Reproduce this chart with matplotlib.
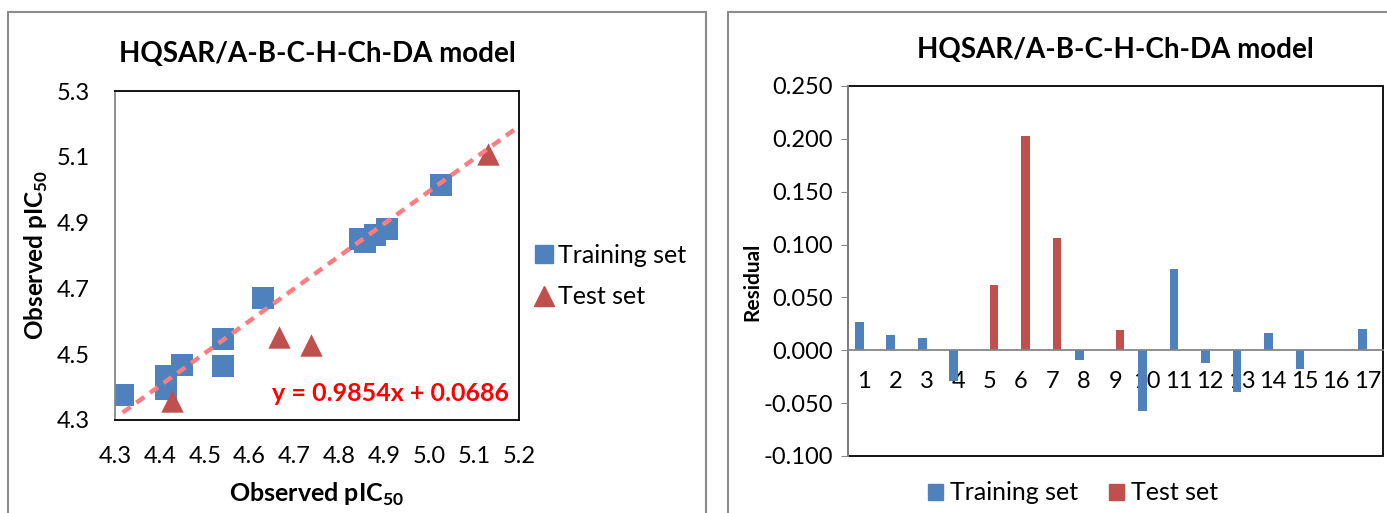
import matplotlib
matplotlib.use("Agg")
import matplotlib.pyplot as plt
from matplotlib.patches import Rectangle
from matplotlib.lines import Line2D

plt.rcParams['font.family'] = ['Lato', 'DejaVu Sans']
plt.rcParams['mathtext.fontset'] = 'custom'
plt.rcParams['mathtext.rm'] = 'Lato'
plt.rcParams['mathtext.bf'] = 'Lato:bold'

# scatter data (observed vs predicted pIC50)
train_x = [4.317, 4.414, 4.414, 4.449, 4.540, 4.540, 4.629, 4.845, 4.858, 4.880, 4.907, 5.027]
train_y = [4.375, 4.434, 4.395, 4.466, 4.545, 4.464, 4.670, 4.850, 4.842, 4.862, 4.880, 5.013]
test_x = [4.426, 4.666, 4.736, 5.132]
test_y = [4.358, 4.553, 4.527, 5.107]
slope, intercept = 0.9854, 0.0686

# residuals per compound
compounds = list(range(1, 18))
train_idx = [1, 2, 3, 4, 8, 10, 11, 12, 13, 14, 15, 16, 17]
train_res = [0.027, 0.014, 0.012, -0.029, -0.009, -0.057, 0.077, -0.012, -0.039, 0.016, -0.018, 0.0, 0.020]
test_idx = [5, 6, 7, 9]
test_res = [0.062, 0.203, 0.106, 0.019]

sc_xticks = [4.3, 4.4, 4.5, 4.6, 4.7, 4.8, 4.9, 5.0, 5.1, 5.2]
sc_yticks = [4.3, 4.5, 4.7, 4.9, 5.1, 5.3]
res_yticks = [-0.1, -0.05, 0.0, 0.05, 0.1, 0.15, 0.2, 0.25]
res_ylabels = ["-0.100", "-0.050", "0.000", "0.050", "0.100", "0.150", "0.200", "0.250"]

title = "HQSAR/A-B-C-H-Ch-DA model"
blue = "#4F81BD"
red = "#C0504D"

W, H = 1387, 513
fig = plt.figure(figsize=(W / 100, H / 100), dpi=100)

def fx(px):
    return px / W

def fy(py):
    return 1 - py / H

# panel borders
for x0, x1 in [(8, 706), (728, 1400)]:
    fig.patches.append(Rectangle((fx(x0), fy(530)), fx(x1 - x0), fy(12) - fy(530),
                                 transform=fig.transFigure, fill=False,
                                 ec="#8c8c8c", lw=1.5))

# ---- left: scatter ----
ax1 = fig.add_axes([fx(115), fy(420), fx(519 - 115), fy(91) - fy(420)])
ax1.plot([min(train_x), 5.2], [slope * min(train_x) + intercept, slope * 5.2 + intercept],
         ls=(0, (2.2, 1.6)), color="#FF7C80", lw=3.2, zorder=3)
ax1.scatter(train_x, train_y, marker="s", s=270, color=blue, zorder=2, lw=0)
ax1.scatter(test_x, test_y, marker="^", s=260, color=red, zorder=2, lw=0)
ax1.set_xlim(4.3, 5.2)
ax1.set_ylim(4.3, 5.3)
ax1.set_xticks(sc_xticks)
ax1.set_xticklabels([f"{v:.1f}" for v in sc_xticks])
ax1.set_yticks(sc_yticks)
ax1.set_yticklabels([f"{v:.1f}" for v in sc_yticks])
ax1.tick_params(length=0, labelsize=17, pad=19)
ax1.tick_params(axis="y", pad=18)
for s in ax1.spines.values():
    s.set_color("black")
    s.set_linewidth(1.3)
ax1.spines["left"].set_color("#868686")
ax1.text(0.975, 0.08, "y = 0.9854x + 0.0686", transform=ax1.transAxes, ha="right", va="center",
         color="red", fontsize=18, fontweight="bold")
ax1.set_title(title, fontsize=20, fontweight="bold", pad=21)
ax1.set_xlabel(r"Observed pIC$_{\mathbf{50}}$", fontsize=18, fontweight="bold", labelpad=10)
ax1.set_ylabel(r"Observed pIC$_{\mathbf{50}}$", fontsize=17.5, fontweight="bold")
ax1.yaxis.set_label_coords(-0.162, 0.5)
h1 = [Line2D([], [], marker="s", ls="", color=blue, markersize=13),
      Line2D([], [], marker="^", ls="", color=red, markersize=14)]
fig.legend(h1, ["Training set", "Test set"], loc="center left",
           bbox_to_anchor=(fx(530), fy(276)), frameon=False, fontsize=18, handlelength=1.1,
           handletextpad=0.0, labelspacing=0.75, borderaxespad=0, borderpad=0)

# ---- right: residual bars ----
ax2 = fig.add_axes([fx(848), fy(456), fx(1383 - 848), fy(86) - fy(456)])
bw = 0.28
ax2.bar([i - bw / 2 for i in train_idx], train_res, width=bw, color=blue, zorder=2)
ax2.bar([i + bw / 2 for i in test_idx], test_res, width=bw, color=red, zorder=2)
ax2.set_xlim(0.5, 17.5)
ax2.set_ylim(-0.1, 0.25)
ax2.set_yticks(res_yticks)
ax2.set_yticklabels(res_ylabels)
ax2.set_xticks(compounds)
ax2.set_xticklabels([str(c) for c in compounds])
ax2.spines["bottom"].set_position(("data", 0))
ax2.spines["bottom"].set_color("#868686")
ax2.spines["bottom"].set_linewidth(1.3)
ax2.spines["left"].set_color("#868686")
ax2.spines["left"].set_linewidth(1.3)
for k in ["top", "right"]:
    ax2.spines[k].set_visible(False)
ax2.add_patch(Rectangle((0, 0), 1, 1, transform=ax2.transAxes, fill=False, ec="black",
                        lw=1.3, clip_on=False, zorder=1))
ax2.tick_params(axis="x", length=0, labelsize=17, pad=15)
ax2.tick_params(axis="y", length=5, color="#868686", labelsize=17, pad=6)
ax2.set_title(title, fontsize=20, fontweight="bold", pad=20)
ax2.set_ylabel("Residual", fontsize=15, fontweight="bold")
ax2.yaxis.set_label_coords(-0.16, 0.47)
h2 = [Rectangle((0, 0), 1, 1, color=blue), Rectangle((0, 0), 1, 1, color=red)]
fig.legend(h2, ["Training set", "Test set"], loc="center", bbox_to_anchor=(fx(1073), fy(493)),
           ncol=2, frameon=False, fontsize=18, handlelength=0.6, handleheight=0.6,
           handletextpad=0.3, columnspacing=1.2)

fig.savefig("out.png", dpi=100)
